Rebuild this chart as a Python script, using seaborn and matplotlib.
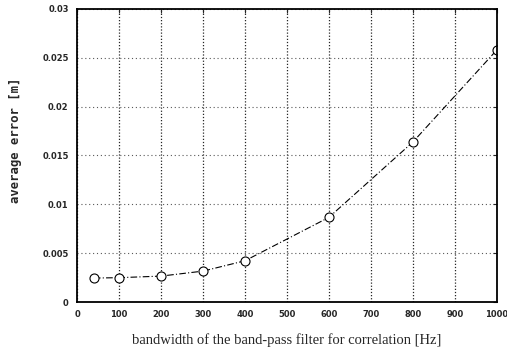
import matplotlib
matplotlib.use('Agg')
import matplotlib.pyplot as plt
import seaborn as sns
import pandas as pd

# values
bandwidth = [40, 100, 200, 300, 400, 600, 800, 1000]
avg_error = [0.00246, 0.0025, 0.00266, 0.00317, 0.00423, 0.00867, 0.01638, 0.0258]

data = pd.DataFrame({'bandwidth': bandwidth, 'error': avg_error})

sns.set_style('white')
plt.rcParams['font.family'] = ['DejaVu Sans']

fig = plt.figure(figsize=(5.07, 3.55), dpi=100)
ax = fig.add_axes([0.152, 0.149, 0.828, 0.826])

sns.lineplot(x='bandwidth', y='error', data=data, ax=ax, color='black',
             linewidth=0.8, linestyle=(0, (6, 2, 1, 2)), marker='o',
             markersize=6.5, markerfacecolor='white', markeredgecolor='black',
             markeredgewidth=0.8)

ax.set_xlim(0, 1000)
ax.set_ylim(0, 0.03)
ax.set_xticks(range(0, 1001, 100))
ax.set_yticks([0, 0.005, 0.01, 0.015, 0.02, 0.025, 0.03])
ax.set_yticklabels(['0', '0.005', '0.01', '0.015', '0.02', '0.025', '0.03'])
ax.grid(True, axis='x', color='0.15', linestyle=(0, (1, 1.5)), linewidth=0.9)
ax.grid(True, axis='y', color='0.35', linestyle=(0, (1, 2.5)), linewidth=0.8)
ax.tick_params(direction='in', length=3, top=True, right=True, labelsize=6, pad=6)
for lab in ax.get_xticklabels() + ax.get_yticklabels():
    lab.set_fontweight('bold')
for s in ax.spines.values():
    s.set_color('black')
    s.set_linewidth(1.3)

ax.set_xlabel('bandwidth of the band-pass filter for correlation [Hz]',
              family=['Liberation Serif', 'DejaVu Serif'], fontsize=10.5, labelpad=10)
ax.set_ylabel('average error [m]', family=['DejaVu Sans Mono'], fontweight='bold',
              fontsize=8.8)
ax.yaxis.set_label_coords(-0.131, 0.553)

fig.savefig('out.png', dpi=100)
